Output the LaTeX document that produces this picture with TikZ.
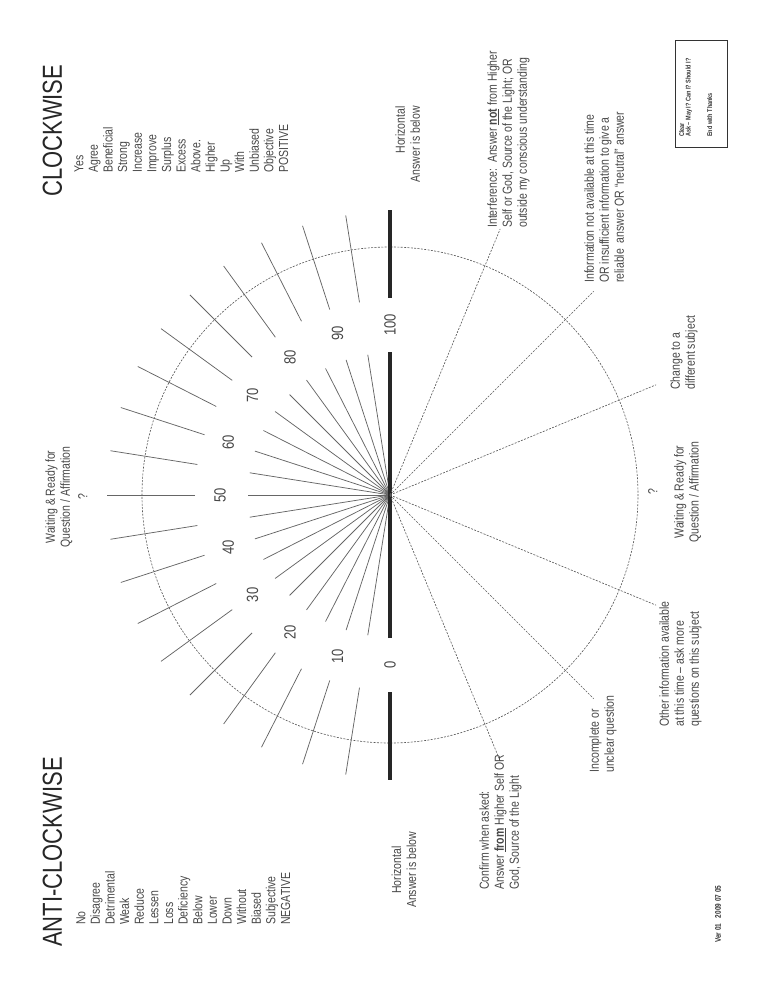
\documentclass[tikz,border=0pt]{standalone}
\usepackage{fontspec}
\setmainfont{Liberation Sans}[FakeStretch=0.8]
\usepackage{tikz}
\usetikzlibrary{calc}

\definecolor{ink}{gray}{0.28}

\begin{document}
\begin{tikzpicture}[x=0.8pt,y=0.8pt,
  spoke/.style={draw=black!60,line width=0.6pt},
  axisbar/.style={draw=black!85,line width=3.2pt},
  guide/.style={draw=black!65,line width=0.5pt,dash pattern=on 1.6pt off 1.1pt},
  notetext/.style={text=ink,inner sep=0pt,font=\fontsize{10.5}{12}\selectfont},
  listtext/.style={text=ink,inner sep=0pt,align=left,font=\fontsize{10.5}{11.7}\selectfont},
  titletext/.style={text=black!85,inner sep=0pt,font=\fontsize{22}{26}\selectfont},
  numtext/.style={text=ink,inner sep=0pt,font=\fontsize{13}{15}\selectfont},
  tinytext/.style={text=black!80,inner sep=0pt,align=left,font=\fontsize{5.5}{5.2}\selectfont\bfseries}]
% the whole sheet is turned a quarter turn
\begin{scope}[rotate=90,transform shape]
\useasboundingbox (-499,-378) rectangle (495,390);

% Dial
\node[inner sep=0pt] (hub) at (0,0) {};
\draw[guide] (hub) circle (248);
\foreach \v in {5,10,...,95} {
  \draw[spoke] (hub.center) -- (180-1.8*\v:142);
  \draw[spoke] (180-1.8*\v:195) -- (180-1.8*\v:283);
}
\draw[axisbar] (180:143) -- (0:143);
\draw[axisbar] (180:197) -- (180:285);
\draw[axisbar] (0:197) -- (0:285);
\foreach \v in {0,10,...,100}
  \node[numtext] (n\v) at (180-1.8*\v:170) {\v};

% Guide lines
\coordinate (g1) at (-22.5:288);
\coordinate (g2) at (-45:288);
\coordinate (g3) at (-67.5:288);
\coordinate (g4) at (-112.5:288);
\coordinate (g5) at (-135:288);
\coordinate (g6) at (-157.5:288);
\foreach \g in {g1,g2,g3,g4,g5,g6}
  \draw[guide] (hub.center) -- (\g);

% Titles and word lists
\node[titletext,anchor=base west] (cw) at (298,328) {CLOCKWISE};
\node[titletext,anchor=base west] (acw) at (-452,328) {ANTI-CLOCKWISE};
\node[listtext,anchor=north west] (poslist) at (322,316) {Yes\\Agree\\Beneficial\\Strong\\Increase\\Improve\\Surplus\\Excess\\Above.\\Higher\\Up\\With\\Unbiased\\Objective\\POSITIVE};
\node[listtext,anchor=north west] (neglist) at (-430,314) {No\\Disagree\\Detrimental\\Weak\\Reduce\\Lessen\\Loss\\Deficiency\\Below\\Lower\\Down\\Without\\Biased\\Subjective\\NEGATIVE};

% Horizontal ends
\node[notetext,align=right,anchor=north east] (hright) at (389,-5) {Horizontal\\Answer is below};
\node[notetext,align=center] (hleft) at (-375,-14) {Horizontal\\Answer is below};

% Waiting
\node[notetext,align=center,anchor=north] (waitup) at (-2,345) {Waiting \& Ready for\\Question / Affirmation\\[2pt]?};
\node[notetext,align=center,anchor=north] (waitdown) at (3,-258) {?\\[9pt]Waiting \& Ready for\\Question / Affirmation};

% Notes at the guide lines
\node[notetext,align=left,anchor=north west] (interf) at (267,-97) {Interference:\ \ Answer \underline{\textbf{not}} from Higher\\Self or God, Source of the Light; OR\\outside my conscious understanding};
\node[notetext,align=left,anchor=north west] (noinfo) at (212,-194) {Information not available at this time\\OR insufficient information to give a\\reliable\ \ answer OR ``neutral'' answer};
\node[notetext,align=left,anchor=north west] (change) at (105,-280) {Change to a\\different subject};
\node[notetext,align=left,anchor=north west] (other) at (-232,-269) {Other information available\\at this time -- ask more\\questions on this subject};
\node[notetext,align=left,anchor=north west] (unclear) at (-278,-199) {Incomplete or\\unclear question};
\node[notetext,align=left,anchor=north west] (confirm) at (-395,-89) {Confirm when asked:\\Answer \underline{\textbf{from}} Higher Self OR\\God, Source of the Light};

% Reminder box and version
\draw[black!80,line width=0.8pt] (347,-337) rectangle (454,-285);
\node[tinytext,anchor=north west] (remind) at (358,-289) {Clear\\Ask -- May I? Can I? Should I?\\[12pt]End with Thanks};
\node[tinytext,anchor=west,font=\fontsize{6.5}{7}\selectfont\bfseries] (ver) at (-448,-328) {Ver 01\ \ \ 2009 07 05};
\end{scope}
\end{tikzpicture}
\end{document}
